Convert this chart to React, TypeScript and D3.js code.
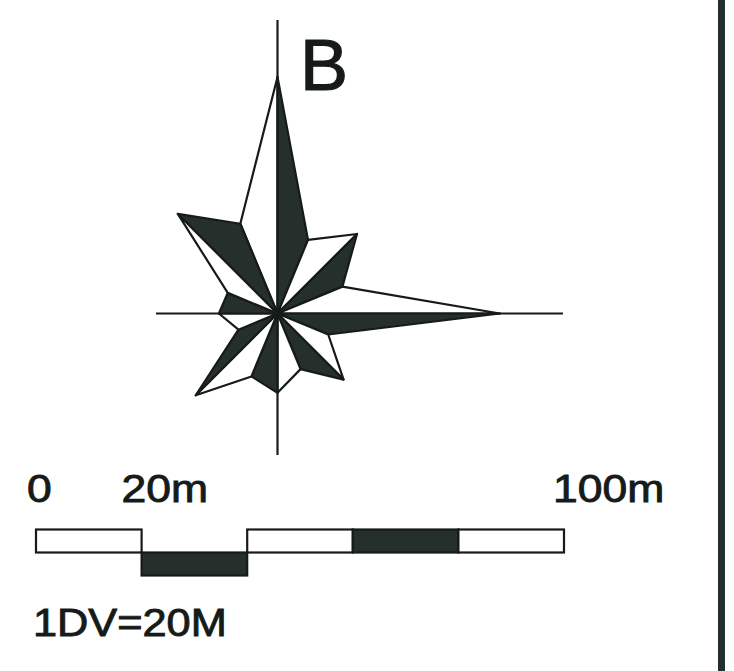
import * as d3 from "d3";

const WIDTH = 734;
const HEIGHT = 671;
const CENTER = { x: 277.5, y: 313.5 };

// 16 compass points, clockwise from north; principal points are petal tips,
// the in-between points are the valleys between petals (metres)
const directions = ["N", "NNE", "NE", "ENE", "E", "ESE", "SE", "SSE", "S", "SSW", "SW", "WSW", "W", "WNW", "NW", "NNW"];
const lengths = [44.8, 15.1, 21.3, 13.3, 42.1, 10.4, 17.7, 11.4, 15.0, 12.9, 21.9, 8.0, 11.1, 10.2, 26.7, 18.4];

// scale bar (metres)
const barSegments = [
  { from: 0, to: 20, row: 0, dark: false },
  { from: 20, to: 40, row: 1, dark: true },
  { from: 40, to: 60, row: 0, dark: false },
  { from: 60, to: 80, row: 0, dark: true },
  { from: 80, to: 100, row: 0, dark: false },
];
const barLabels = [
  { value: 0, text: "0", dx: -9 },
  { value: 20, text: "20m", dx: -20 },
  { value: 100, text: "100m", dx: -11 },
];
const unitNote = "1DV=20M";
const title = "B";

const INK = "#161b19";
const DARK = "#25302c";

export default function App() {
  const xBar = d3.scaleLinear().domain([0, 100]).range([36, 564]);
  // same metre scale as the bar, used as polar radius
  const r = d3.scaleLinear().domain([0, 100]).range([0, 528]);
  const angle = d3
    .scaleLinear()
    .domain([0, directions.length])
    .range([0, 2 * Math.PI]);

  const pt = (i: number) => {
    const k = i % directions.length;
    const a = angle(k);
    const rad = r(lengths[k]);
    return [CENTER.x + rad * Math.sin(a), CENTER.y - rad * Math.cos(a)];
  };

  const line = d3.line();
  const c: [number, number] = [CENTER.x, CENTER.y];

  const petals = d3.range(0, directions.length, 2).map((i) => {
    const tip = pt(i) as [number, number];
    const prev = pt(i + directions.length - 1) as [number, number];
    const next = pt(i + 1) as [number, number];
    return (
      <g key={directions[i]}>
        <path d={line([c, prev, tip])! + "Z"} fill="white" stroke={INK} strokeWidth={2.2} strokeLinejoin="round" />
        <path d={line([c, tip, next])! + "Z"} fill={DARK} stroke={INK} strokeWidth={2.2} strokeLinejoin="round" />
      </g>
    );
  });

  const rowY = [529.5, 552.5];
  const rowH = 23;

  return (
    <svg
      width={WIDTH}
      height={HEIGHT}
      style={{ position: "absolute", left: 0, top: 0, background: "white" }}
      fontFamily="'Liberation Sans', Arial, sans-serif"
    >
      <line x1={CENTER.x} x2={CENTER.x} y1={20} y2={455} stroke={INK} strokeWidth={2.2} />
      <line x1={156} x2={563} y1={CENTER.y} y2={CENTER.y} stroke={INK} strokeWidth={2.2} />
      {petals}

      <text x={300} y={90} fontSize={72} fill={INK} stroke={INK} strokeWidth={1.2}>
        {title}
      </text>

      {barSegments.map((s, i) => (
        <rect
          key={i}
          x={xBar(s.from)}
          y={rowY[s.row]}
          width={xBar(s.to) - xBar(s.from)}
          height={rowH}
          fill={s.dark ? DARK : "white"}
          stroke={INK}
          strokeWidth={2.2}
        />
      ))}

      {barLabels.map((l) => (
        <text
          key={l.text}
          transform={`translate(${xBar(l.value) + l.dx},502) scale(1.17,1)`}
          fontSize={38}
          fill={INK}
          stroke={INK}
          strokeWidth={0.9}
        >
          {l.text}
        </text>
      ))}

      <text transform="translate(33,636) scale(1.14,1)" fontSize={38} fill={INK} stroke={INK} strokeWidth={0.9}>
        {unitNote}
      </text>

      <rect x={718} y={0} width={7} height={HEIGHT} fill={DARK} />
    </svg>
  );
}
